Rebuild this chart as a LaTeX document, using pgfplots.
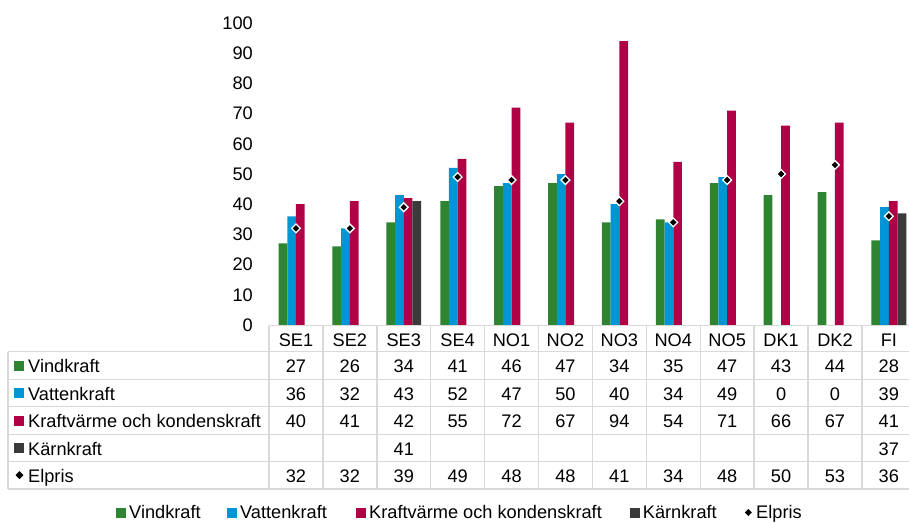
\documentclass[border=0pt]{standalone}
\usepackage{fontspec}
\setmainfont{Liberation Sans}
\usepackage{pgfplots}
\pgfplotsset{compat=1.18}
\definecolor{cgreen}{RGB}{46,132,48}
\definecolor{cblue}{RGB}{0,150,214}
\definecolor{cred}{RGB}{176,0,70}
\definecolor{cgray}{RGB}{58,58,58}
\definecolor{gridc}{RGB}{217,217,217}
\newcommand{\fs}{\fontsize{18.2}{22}\selectfont}
\begin{document}
\fs
\begin{tikzpicture}
\path[use as bounding box] (0pt,0pt) rectangle (909pt,-522pt);
\begin{axis}[
  at={(269pt,-325pt)}, anchor=south west,
  scale only axis, width=646.8pt, height=302pt,
  xmin=-0.5, xmax=11.5, ymin=0, ymax=100,
  clip=false,
  axis line style={draw=none},
  xtick=\empty,
  ytick={0,10,...,100},
  major tick length=0pt,
  yticklabel style={inner sep=0pt, xshift=-16pt, font=\fs},
  /pgf/number format/assume math mode=true,
]
% Vindkraft
\addplot[ybar, bar width=8.7pt, bar shift=-13.05pt, fill=cgreen, draw=none]
  coordinates {(0,27) (1,26) (2,34) (3,41) (4,46) (5,47) (6,34) (7,35) (8,47) (9,43) (10,44) (11,28)};
% Vattenkraft
\addplot[ybar, bar width=8.7pt, bar shift=-4.35pt, fill=cblue, draw=none]
  coordinates {(0,36) (1,32) (2,43) (3,52) (4,47) (5,50) (6,40) (7,34) (8,49) (9,0) (10,0) (11,39)};
% Kraftvarme och kondenskraft
\addplot[ybar, bar width=8.7pt, bar shift=4.35pt, fill=cred, draw=none]
  coordinates {(0,40) (1,41) (2,42) (3,55) (4,72) (5,67) (6,94) (7,54) (8,71) (9,66) (10,67) (11,41)};
% Karnkraft
\addplot[ybar, bar width=8.7pt, bar shift=13.05pt, fill=cgray, draw=none]
  coordinates {(2,41) (11,37)};
% Elpris
\addplot[only marks, mark=square*, mark size=3.1pt,
  mark options={rotate=45, fill=black, draw=white, line width=1.3pt}]
  coordinates {(0,32) (1,32) (2,39) (3,49) (4,48) (5,48) (6,41) (7,34) (8,48) (9,50) (10,53) (11,36)};
\end{axis}
% ---- data table ----
\begin{scope}[gridc, line width=1.4pt]
\foreach \k in {0,...,11} \draw ({(269+53.9*\k)*1pt},-325.5pt) -- ({(269+53.9*\k)*1pt},-489pt);
\draw (269pt,-325.5pt) -- (916pt,-325.5pt);
\foreach \y in {351.7,379.3,406.7,434.3,461.7,489} \draw (8pt,{-\y*1pt}) -- (916pt,{-\y*1pt});
\draw (8pt,-351.7pt) -- (8pt,-489pt);
\end{scope}
\foreach \n [count=\i from 0] in {SE1,SE2,SE3,SE4,NO1,NO2,NO3,NO4,NO5,DK1,DK2,FI}
  \node[anchor=base, inner sep=0pt] at ({(295.95+53.9*\i)*1pt},-346pt) {\n};
\foreach \v [count=\i from 0] in {27,26,34,41,46,47,34,35,47,43,44,28}
  \node[anchor=base, inner sep=0pt] at ({(295.95+53.9*\i)*1pt},-372.7pt) {\v};
\foreach \v [count=\i from 0] in {36,32,43,52,47,50,40,34,49,0,0,39}
  \node[anchor=base, inner sep=0pt] at ({(295.95+53.9*\i)*1pt},-400pt) {\v};
\foreach \v [count=\i from 0] in {40,41,42,55,72,67,94,54,71,66,67,41}
  \node[anchor=base, inner sep=0pt] at ({(295.95+53.9*\i)*1pt},-427.5pt) {\v};
\node[anchor=base, inner sep=0pt] at ({(295.95+53.9*2)*1pt},-455pt) {41};
\node[anchor=base, inner sep=0pt] at ({(295.95+53.9*11)*1pt},-455pt) {37};
\foreach \v [count=\i from 0] in {32,32,39,49,48,48,41,34,48,50,53,36}
  \node[anchor=base, inner sep=0pt] at ({(295.95+53.9*\i)*1pt},-482.3pt) {\v};
% row labels
\fill[cgreen] (14pt,-360.5pt) rectangle (24pt,-370.5pt);
\fill[cblue] (14pt,-388pt) rectangle (24pt,-398pt);
\fill[cred] (14pt,-415.5pt) rectangle (24pt,-425.5pt);
\fill[cgray] (14pt,-443pt) rectangle (24pt,-453pt);
\fill[black] (19.5pt,-471pt) -- (23.5pt,-475pt) -- (19.5pt,-479pt) -- (15.5pt,-475pt) -- cycle;
\node[anchor=base west, inner sep=0pt] at (28pt,-372.7pt) {Vindkraft};
\node[anchor=base west, inner sep=0pt] at (28pt,-400pt) {Vattenkraft};
\node[anchor=base west, inner sep=0pt] at (28pt,-427.5pt) {Kraftvärme och kondenskraft};
\node[anchor=base west, inner sep=0pt] at (28pt,-455pt) {Kärnkraft};
\node[anchor=base west, inner sep=0pt] at (28pt,-482.3pt) {Elpris};
% ---- legend ----
\fill[cgreen] (116pt,-508pt) rectangle (126pt,-518pt);
\node[anchor=base west, inner sep=0pt] at (129pt,-518pt) {Vindkraft};
\fill[cblue] (227pt,-508pt) rectangle (237pt,-518pt);
\node[anchor=base west, inner sep=0pt] at (240pt,-518pt) {Vattenkraft};
\fill[cred] (356pt,-508pt) rectangle (366pt,-518pt);
\node[anchor=base west, inner sep=0pt] at (369pt,-518pt) {Kraftvärme och kondenskraft};
\fill[cgray] (630pt,-508pt) rectangle (640pt,-518pt);
\node[anchor=base west, inner sep=0pt] at (642.7pt,-518pt) {Kärnkraft};
\fill[black] (748.3pt,-509pt) -- (751.8pt,-512.5pt) -- (748.3pt,-516pt) -- (744.8pt,-512.5pt) -- cycle;
\node[anchor=base west, inner sep=0pt] at (756pt,-518pt) {Elpris};
\end{tikzpicture}
\end{document}
